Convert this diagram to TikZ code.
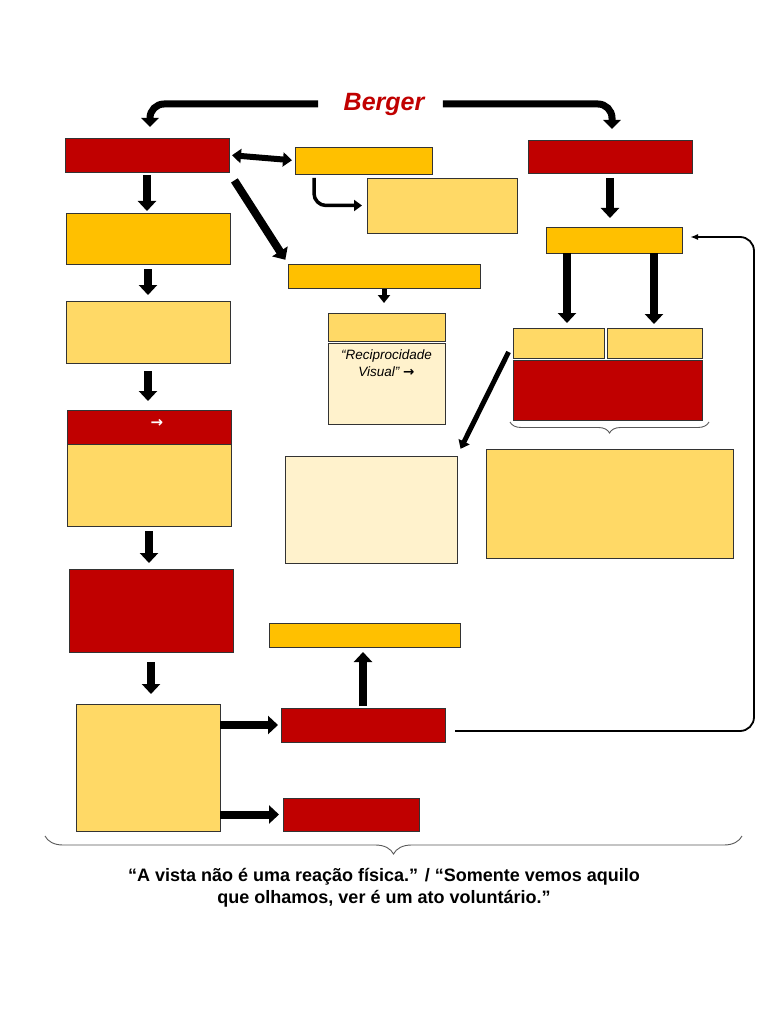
\documentclass[tikz,border=0pt]{standalone}
\usepackage{fontspec}
\setmainfont{Liberation Sans}
\newfontfamily\symfont{DejaVu Sans}
\usepackage{tikz}
\usetikzlibrary{positioning,arrows.meta,calc,decorations.pathreplacing}
\definecolor{bred}{HTML}{C00000}
\definecolor{borange}{HTML}{FFC000}
\definecolor{byellow}{HTML}{FFD966}
\definecolor{bcream}{HTML}{FFF2CC}
\tikzset{
  box/.style={draw=black!80, line width=0.9pt, inner sep=0pt, outer sep=0pt},
  redbox/.style={box, fill=bred},
  orangebox/.style={box, fill=borange},
  yelbox/.style={box, fill=byellow},
  creambox/.style={box, fill=bcream},
  blockarrow/.style={-{Triangle[length=10pt,width=18pt]}, line width=8pt, shorten <=5pt, shorten >=6pt},
  thinblock/.style={-{Triangle[length=8pt,width=12pt]}, line width=5pt},
  toparrow/.style={-{Triangle[length=9pt,width=17pt]}, line width=7pt, rounded corners=14pt},
  curvearrow/.style={-{Triangle[length=8pt,width=11pt]}, line width=3.5pt, rounded corners=12pt},
  fbarrow/.style={-{Latex[length=8pt,width=6pt]}, line width=1.8pt, rounded corners=14pt},
  bracestyle/.style={draw=black!65, line width=0.9pt, decorate, decoration={brace, mirror, amplitude=#1}}
}
\begin{document}
\begin{tikzpicture}[x=1pt, y=-1pt]
  \useasboundingbox (0,0) rectangle (768,1024);
  \node[font=\bfseries\itshape\fontsize{25}{30}\selectfont, text=bred] (title) at (384,104) {Berger};
  % left column
  \node[redbox, minimum width=164pt, minimum height=34pt] (A) at (147,155) {};
  \node[orangebox, minimum width=164pt, minimum height=51pt] (E) at (148,238.5) {};
  \node[yelbox, minimum width=164pt, minimum height=62pt] (F) at (148,332) {};
  \node[redbox, minimum width=164pt, minimum height=34pt] (G) at (149,427) {};
  \node[yelbox, minimum width=164pt, minimum height=82pt, below=0pt of G] (G2) {};
  \node[text=white, font=\symfont\bfseries\fontsize{15}{15}\selectfont] (garrow) at ($(G.center)+(8,-4)$) {→};
  \node[redbox, minimum width=164pt, minimum height=83pt] (H) at (151,610.5) {};
  \node[yelbox, minimum width=144pt, minimum height=127pt] (I) at (148,767.5) {};
  \node[redbox, minimum width=164pt, minimum height=34pt] (J) at (363,725) {};
  \node[redbox, minimum width=136pt, minimum height=33pt] (K) at (351,814.5) {};
  \node[orangebox, minimum width=191pt, minimum height=24pt] (L) at (364.5,635) {};
  % middle column
  \node[orangebox, minimum width=137pt, minimum height=27pt] (B) at (363.5,160.5) {};
  \node[yelbox, minimum width=150pt, minimum height=55pt] (C) at (442,205.5) {};
  \node[orangebox, minimum width=192pt, minimum height=24pt] (M) at (384,276) {};
  \node[yelbox, minimum width=117pt, minimum height=28pt] (N) at (386.5,327) {};
  \node[creambox, minimum width=117pt, minimum height=81pt, below=2pt of N] (N2) {};
  \node[font=\itshape\fontsize{13.5}{17}\selectfont, align=center, anchor=north] (recip) at ($(N2.north)+(0,3)$) {“Reciprocidade\\Visual” {\symfont\upshape\bfseries →}};
  \node[creambox, minimum width=172pt, minimum height=107pt] (R) at (371,509.5) {};
  % right column
  \node[redbox, minimum width=164pt, minimum height=33pt] (D) at (610,156.5) {};
  \node[orangebox, minimum width=136pt, minimum height=26pt] (O) at (614,240) {};
  \node[yelbox, minimum width=91pt, minimum height=30pt] (P1) at (558.5,343) {};
  \node[yelbox, minimum width=95pt, minimum height=30pt, right=3pt of P1] (P2) {};
  \node[redbox, minimum width=189pt, minimum height=60pt] (Q) at (607.5,390) {};
  \node[yelbox, minimum width=247pt, minimum height=109pt] (S) at (609.5,503.5) {};
  % arrows
  \draw[toparrow, shorten <=22pt, shorten >=11pt] (title.west) -| ($(A.north)+(3,0)$);
  \draw[toparrow, shorten <=15pt, shorten >=11pt] (title.east) -| ($(D.north)+(2,0)$);
  \draw[{Triangle[length=9pt,width=14pt]}-{Triangle[length=9pt,width=14pt]}, line width=6pt, shorten <=3pt, shorten >=3pt] (A.east) -- (B.west);
  \draw[curvearrow, shorten <=4pt, shorten >=5pt] ([xshift=19pt]B.south west) |- (C.west);
  \draw[blockarrow, shorten <=3pt, shorten >=2pt] (A.south) -- (A.south |- E.north);
  \draw[blockarrow] (E.south) -- (E.south |- F.north);
  \draw[blockarrow, shorten <=8pt, shorten >=9pt] (F.south) -- (F.south |- G.north);
  \draw[blockarrow] (G2.south) -- (G2.south |- H.north);
  \draw[blockarrow, shorten <=10pt, shorten >=10pt] (H.south) -- (H.south |- I.north);
  \draw[blockarrow, shorten <=0pt, shorten >=3pt] (I.east |- J.west) -- (J.west);
  \draw[blockarrow, shorten <=0pt, shorten >=4pt] (I.east |- K.west) -- (K.west);
  \draw[blockarrow, shorten <=2pt, shorten >=5pt] (J.north) -- (J.north |- L.south);
  \draw[blockarrow, shorten <=10pt, shorten >=5pt] (A.south east) -- (M.north west);
  \draw[thinblock, shorten <=1pt, shorten >=10pt] (M.south) -- (M.south |- N.north);
  \draw[blockarrow, shorten <=5pt, shorten >=9pt] (D.south) -- (D.south |- O.north);
  \draw[blockarrow, shorten <=0pt, shorten >=5pt] ([xshift=21pt]O.south west) -- ([xshift=21pt]O.south west |- P1.north);
  \draw[blockarrow, shorten <=0pt, shorten >=4pt] ([xshift=-28pt]O.south east) -- ([xshift=-28pt]O.south east |- P2.north);
  \draw[thinblock, shorten <=10pt, shorten >=8pt] (P1.west) -- (R.north east);
  \draw[fbarrow, shorten >=8pt] ($(J.east)+(10,6)$) -| ($(O.east)+(72,-3)$) -- ($(O.east)+(0,-3)$);
  % braces
  \draw[bracestyle=11pt] ($(Q.south west)+(-3,2)$) -- ($(Q.south east)+(7,2)$);
  \coordinate (bleft) at (45,836);
  \coordinate (bright) at (742,836);
  \draw[bracestyle=18pt] (bleft) -- (bright);
  \node[font=\bfseries\fontsize{18}{22}\selectfont, align=center] (quote) at (384,888) {“A vista não é uma reação física.” / “Somente vemos aquilo\\que olhamos, ver é um ato voluntário.”};
\end{tikzpicture}
\end{document}
